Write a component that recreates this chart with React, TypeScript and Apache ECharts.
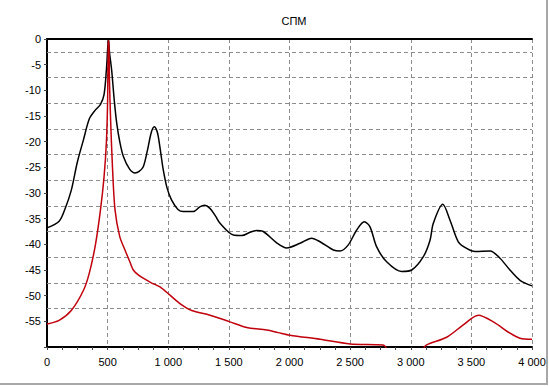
import React, { useEffect, useRef } from "react";
import * as echarts from "echarts";

const TITLE = "СПМ";

const BLACK_X = [0, 100, 150, 200, 250, 300, 350, 400, 440, 470, 490, 500, 507, 515, 533, 555, 575, 600, 630, 680, 726, 760, 794, 830, 860, 885, 905, 918, 940, 959, 990, 1028, 1080, 1124, 1207, 1260, 1300, 1344, 1390, 1427, 1537, 1606, 1680, 1729, 1784, 1894, 1977, 2087, 2183, 2252, 2362, 2416, 2485, 2554, 2617, 2664, 2719, 2801, 2925, 3008, 3104, 3159, 3186, 3264, 3324, 3392, 3461, 3530, 3654, 3736, 3818, 3901, 4000];
const BLACK_Y = [-36.8, -35.5, -33, -29.5, -24, -19.7, -15.5, -13.8, -12.8, -10.9, -6, -2, 0, -2.5, -6, -12, -16.4, -20, -22.9, -25.3, -26.1, -25.8, -24.9, -21.5, -18.2, -17.1, -17.8, -19, -22.5, -25.5, -29, -31.4, -33.2, -33.6, -33.6, -32.7, -32.4, -33, -34.5, -35.9, -38.2, -38.3, -37.6, -37.3, -37.5, -39.7, -40.7, -39.8, -38.8, -39.5, -41.1, -41.3, -40.1, -37.2, -35.6, -36.6, -40.5, -43.4, -45.3, -45, -42.4, -39.2, -35.9, -32.2, -35.3, -39.5, -40.8, -41.4, -41.3, -42.7, -45, -47, -48.1];

const RED_X = [0, 100, 200, 300, 350, 400, 440, 470, 490, 500, 505, 510, 515, 525, 540, 561, 600, 643, 685, 712, 750, 794, 860, 932, 1014, 1111, 1193, 1344, 1509, 1647, 1812, 1907, 2004, 2252, 2499, 2773, 2810, 2900, 3000, 3090, 3131, 3296, 3433, 3557, 3681, 3818, 3901, 4000];
const RED_Y = [-55.5, -54.8, -52.9, -49, -45.5, -40, -33.5, -27, -20, -12, -1, -0.3, -8, -16, -25, -33.3, -38.5, -41.1, -43.5, -45, -45.9, -46.6, -47.5, -48.3, -49.9, -51.8, -52.9, -53.8, -55.1, -56.2, -56.7, -57.2, -57.7, -58.5, -59.4, -59.6, -60.5, -61.5, -61.8, -60.6, -59.6, -58.1, -55.7, -53.8, -55.1, -57.3, -58.3, -58.5];

const Y_GRID = [-2.5, -7.5, -12.5, -17.5, -22.5, -27.5, -32.5, -37.5, -42.5, -47.5, -52.5];

const X_MIN = 0;
const X_MAX = 4000;
const X_STEP = 500;
const Y_MIN = -60;
const Y_MAX = 0;
const Y_STEP = 5;

const FONT = "Arial, 'Liberation Sans', sans-serif";

function pairs(xs: number[], ys: number[]) {
  return xs.map((x, i) => [x, ys[i]]);
}

function fmtX(v: number) {
  return String(v).replace(/\B(?=(\d{3})+(?!\d))/g, " ");
}

export default function App() {
  const ref = useRef<HTMLDivElement>(null);
  useEffect(() => {
    document.body.style.margin = "0";
    const chart = echarts.init(ref.current!, null, { renderer: "svg" });
    chart.setOption({
      animation: false,
      backgroundColor: "#ffffff",
      title: {
        text: TITLE,
        left: 289,
        textAlign: "center",
        top: 10,
        textStyle: { fontFamily: FONT, fontSize: 11, fontWeight: "normal", color: "#000" },
      },
      grid: { left: 47, right: 17, top: 39, bottom: 39, containLabel: false },
      xAxis: [
        {
          type: "value",
          min: X_MIN,
          max: X_MAX,
          interval: X_STEP,
          axisLine: { show: true, onZero: false, lineStyle: { color: "#000", width: 2 } },
          axisTick: { show: true, length: 3, lineStyle: { color: "#444", width: 1 } },
          minorTick: { show: true, splitNumber: 4, length: 3, lineStyle: { color: "#444", width: 1 } },
          axisLabel: {
            formatter: (v: number) => fmtX(v),
            fontFamily: FONT,
            fontSize: 11,
            color: "#000",
            margin: 9,
            showMinLabel: true,
            showMaxLabel: true,
          },
          splitLine: { show: true, lineStyle: { color: "#8c8c8c", type: [4, 3], width: 1 } },
        },
        {
          type: "value",
          position: "top",
          min: X_MIN,
          max: X_MAX,
          axisLine: { show: true, onZero: false, lineStyle: { color: "#000", width: 2 } },
          axisTick: { show: false },
          axisLabel: { show: false },
          splitLine: { show: false },
        },
      ],
      yAxis: {
        type: "value",
        min: Y_MIN,
        max: Y_MAX,
        interval: Y_STEP,
        axisLine: { show: true, onZero: false, lineStyle: { color: "#000", width: 2 } },
        axisTick: { show: true, length: 3, lineStyle: { color: "#444", width: 1 } },
        axisLabel: {
          formatter: (v: number) => (v === Y_MIN ? "" : String(v)),
          fontFamily: FONT,
          fontSize: 11,
          color: "#000",
          margin: 6,
        },
        splitLine: { show: false },
      },
      series: [
        {
          type: "line",
          data: pairs(BLACK_X, BLACK_Y),
          showSymbol: false,
          smooth: 0.3,
          lineStyle: { color: "#000", width: 1.5 },
          z: 3,
          markLine: {
            silent: true,
            symbol: ["none", "none"],
            label: { show: false },
            lineStyle: { color: "#8c8c8c", type: [4, 3], width: 1 },
            data: Y_GRID.map((v) => ({ yAxis: v })),
            z: 1,
          },
        },
        {
          type: "line",
          data: pairs(RED_X, RED_Y),
          showSymbol: false,
          smooth: 0.3,
          lineStyle: { color: "#c0000c", width: 1.5 },
          z: 4,
        },
      ],
      graphic: [
        { type: "rect", shape: { x: 546, y: 0, width: 2, height: 385 }, style: { fill: "#a8a8a8" } },
        { type: "rect", shape: { x: 0, y: 383, width: 548, height: 2 }, style: { fill: "#a8a8a8" } },
      ],
    });
    return () => chart.dispose();
  }, []);
  return <div ref={ref} style={{ width: 549, height: 386 }} />;
}
